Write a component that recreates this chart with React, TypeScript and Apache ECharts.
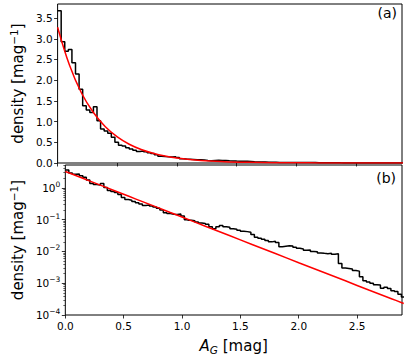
import React, { useEffect, useRef } from "react";
import * as echarts from "echarts";

// Histogram: bin width 0.03 mag, starting at 0
const binWidth = 0.03;
const histValues = [
  3.68, 2.93, 2.70, 2.74, 2.42, 2.15, 1.78, 1.38, 1.28, 1.22,
  1.36, 1.02, 0.82, 0.77, 0.72, 0.62, 0.50, 0.43, 0.41, 0.37,
  0.34, 0.31, 0.28, 0.29, 0.27, 0.25, 0.23, 0.20, 0.165, 0.155,
  0.148, 0.145, 0.15, 0.13, 0.10, 0.095, 0.092, 0.085, 0.078, 0.076,
  0.072, 0.060, 0.052, 0.060, 0.065, 0.060, 0.058, 0.052, 0.050, 0.046,
  0.043, 0.042, 0.040, 0.034, 0.028, 0.026, 0.024, 0.022, 0.020, 0.021,
  0.019, 0.014, 0.0145, 0.015, 0.0148, 0.0135, 0.0125, 0.0120, 0.0108, 0.0110,
  0.0100, 0.0098, 0.0090, 0.0087, 0.0085, 0.0087, 0.0082, 0.0085, 0.0042, 0.0030,
  0.0029, 0.0028, 0.0025, 0.0024, 0.0016, 0.0012, 0.0011, 0.0010, 0.0009, 0.00088,
  0.0007, 0.00075, 0.00068, 0.00058, 0.00055, 0.00045, 0.00037,
];

// Red model curve
const curveX = [0, 0.1, 0.2, 0.3, 0.4, 0.5, 0.6, 0.7, 0.8, 0.9, 1.0, 1.2, 1.4, 1.6, 1.8, 2.0, 2.2, 2.4, 2.6, 2.8, 2.9];
const curveY = [3.28, 2.36, 1.69, 1.22, 0.875, 0.629, 0.452, 0.325, 0.234, 0.168, 0.121, 0.0623, 0.0322, 0.0166, 0.0086, 0.0044, 0.0023, 0.00119, 0.00061, 0.00032, 0.00023];

const xTicks = [0, 0.5, 1.0, 1.5, 2.0, 2.5];
const yTicksLin = [0, 0.5, 1.0, 1.5, 2.0, 2.5, 3.0, 3.5];
const yTicksLog = [1e-4, 1e-3, 1e-2, 1e-1, 1];
const yMinorLog = [
  2e-4, 3e-4, 4e-4, 5e-4, 6e-4, 7e-4, 8e-4, 9e-4,
  2e-3, 3e-3, 4e-3, 5e-3, 6e-3, 7e-3, 8e-3, 9e-3,
  2e-2, 3e-2, 4e-2, 5e-2, 6e-2, 7e-2, 8e-2, 9e-2,
  2e-1, 3e-1, 4e-1, 5e-1, 6e-1, 7e-1, 8e-1, 9e-1,
  2, 3, 4, 5,
];

const X_MAX = 2.885;
const FONT = "DejaVu Sans";

export default function App() {
  const ref = useRef<HTMLDivElement>(null);
  useEffect(() => {
    if (!ref.current) return;
    const chart = echarts.init(ref.current, undefined, { renderer: "svg" });
    const stepData: number[][] = histValues.map((v, i) => [i * binWidth, v]);
    stepData.push([histValues.length * binWidth, histValues[histValues.length - 1]]);
    const curve = curveX.map((x, i) => [x, curveY[i]]);

    const tickStyle = { show: true, inside: false, length: 3.5, lineStyle: { color: "#000", width: 0.8 } };
    const labelBase = { color: "#000", fontSize: 10.5, fontFamily: FONT, margin: 5 };
    const yName = {
      name: "density [mag{s|−1}]",
      nameLocation: "middle",
      nameGap: 29,
      nameTextStyle: {
        color: "#000", fontSize: 15, fontFamily: FONT,
        rich: { s: { fontSize: 10.5, fontFamily: FONT, color: "#000", padding: [0, 0, 8, 0] } },
      },
    };

    chart.setOption({
      animation: false,
      grid: [
        { left: 49, right: 5, top: 4, height: 159, show: true, borderColor: "#000", borderWidth: 1, backgroundColor: "transparent" },
        { left: 49, right: 5, top: 165, height: 158, show: true, borderColor: "#000", borderWidth: 1, backgroundColor: "transparent" },
      ],
      xAxis: [
        {
          gridIndex: 0, type: "value", min: 0, max: X_MAX,
          axisLine: { show: false },
          axisTick: { ...tickStyle, customValues: xTicks },
          axisLabel: { show: false },
          splitLine: { show: false },
        },
        {
          gridIndex: 1, type: "value", min: 0, max: X_MAX,
          axisLine: { show: false },
          axisTick: { ...tickStyle, customValues: xTicks },
          axisLabel: { ...labelBase, customValues: xTicks, formatter: (v: number) => v.toFixed(1) },
          splitLine: { show: false },
          name: "{a|A}{g|G} [mag]",
          nameLocation: "middle",
          nameGap: 21,
          nameTextStyle: {
            color: "#000", fontSize: 15, fontFamily: FONT,
            rich: {
              a: { fontStyle: "italic", fontSize: 15, fontFamily: FONT, color: "#000" },
              g: { fontStyle: "italic", fontSize: 10.5, fontFamily: FONT, color: "#000", padding: [8, 0, 0, 0] },
            },
          },
        },
      ],
      yAxis: [
        {
          gridIndex: 0, type: "value", min: 0, max: 3.84,
          axisLine: { show: false },
          axisTick: { ...tickStyle, customValues: yTicksLin },
          axisLabel: { ...labelBase, customValues: yTicksLin, formatter: (v: number) => v.toFixed(1) },
          splitLine: { show: false },
          ...yName,
        },
        {
          gridIndex: 1, type: "log", min: 1e-4, max: 5.24,
          axisLine: { show: false },
          axisTick: { ...tickStyle, customValues: yTicksLog },
          axisLabel: {
            ...labelBase, customValues: yTicksLog,
            formatter: (v: number) => "10{e|" + String(Math.round(Math.log10(v))).replace("-", "−") + "}",
            rich: { e: { fontSize: 7.5, fontFamily: FONT, color: "#000", padding: [0, 0, 7, 0] } },
          },
          splitLine: { show: false },
          minorTick: { show: false },
          ...yName,
        },
        {
          gridIndex: 1, type: "log", min: 1e-4, max: 5.24, position: "left",
          axisLine: { show: false },
          axisTick: { show: true, inside: false, length: 2, lineStyle: { color: "#000", width: 0.6 }, customValues: yMinorLog },
          axisLabel: { show: false },
          splitLine: { show: false },
        },
      ],
      series: [
        {
          type: "line", xAxisIndex: 0, yAxisIndex: 0, data: stepData, step: "end",
          showSymbol: false, symbol: "none", lineStyle: { color: "#000", width: 1.5 }, z: 2,
        },
        {
          type: "line", xAxisIndex: 0, yAxisIndex: 0, data: curve, smooth: 0.4,
          showSymbol: false, symbol: "none", lineStyle: { color: "#ff0000", width: 1.5 }, z: 3,
        },
        {
          type: "line", xAxisIndex: 1, yAxisIndex: 1, data: stepData, step: "end",
          showSymbol: false, symbol: "none", lineStyle: { color: "#000", width: 1.5 }, z: 2,
        },
        {
          type: "line", xAxisIndex: 1, yAxisIndex: 1, data: curve, smooth: 0.4,
          showSymbol: false, symbol: "none", lineStyle: { color: "#ff0000", width: 1.5 }, z: 3,
        },
      ],
      graphic: [
        { type: "text", right: 10, top: 6, style: { text: "(a)", fontSize: 14, fontFamily: FONT, fill: "#000" } },
        { type: "text", right: 11, top: 171, style: { text: "(b)", fontSize: 14, fontFamily: FONT, fill: "#000" } },
      ],
    });
    return () => chart.dispose();
  }, []);
  return <div ref={ref} style={{ position: "absolute", left: 0, top: 0, width: 407, height: 356 }} />;
}
